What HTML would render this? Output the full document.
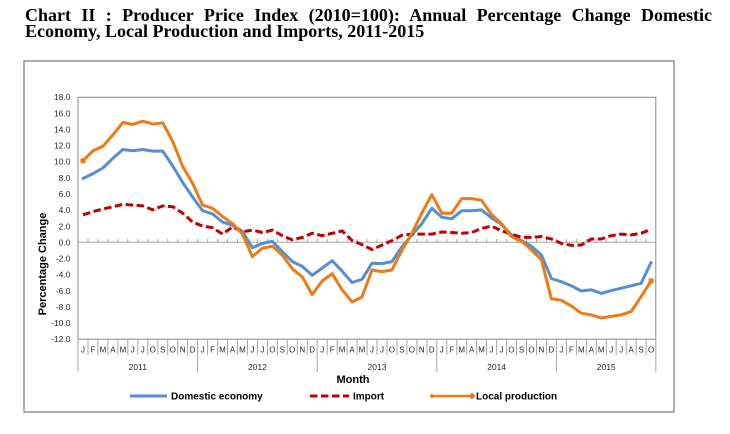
<!DOCTYPE html>
<html>
<head>
<meta charset="utf-8">
<style>
  html,body{margin:0;padding:0;background:#fff;}
  body{width:730px;height:434px;position:relative;overflow:hidden;}
  .title{position:absolute;left:25px;top:7px;width:687px;font-family:"Liberation Serif",serif;font-weight:bold;font-size:18px;line-height:16px;text-align:justify;color:#000;}
  svg{position:absolute;left:0;top:0;}
  .ax{font-family:"Liberation Sans",sans-serif;font-size:8.5px;fill:#262626;}
  .lg{font-family:"Liberation Sans",sans-serif;font-size:10px;font-weight:bold;fill:#000;}
</style>
</head>
<body>
<div class="title">Chart II : Producer Price Index (2010=100): Annual Percentage Change Domestic Economy, Local Production and Imports, 2011-2015</div>
<svg width="730" height="434" viewBox="0 0 730 434" xmlns="http://www.w3.org/2000/svg">
  <!-- outer chart border -->
  <rect x="24" y="61" width="650" height="351" fill="none" stroke="#8c8c8c" stroke-width="1.4"/>
  <!-- plot area -->
  <rect x="78" y="97.3" width="577.8" height="241.9" fill="none" stroke="#868686" stroke-width="1"/>
  <!-- zero line -->
  <line x1="78" y1="242.2" x2="656" y2="242.2" stroke="#a6a6a6" stroke-width="1"/>
  <g stroke="#a6a6a6" stroke-width="1">
    <path d="M88,239V242 M97.9,239V242 M107.9,239V242 M117.9,239V242 M127.8,239V242 M137.8,239V242 M147.8,239V242 M157.8,239V242 M167.7,239V242 M177.7,239V242 M187.6,239V242 M197.6,239V242 M207.6,239V242 M217.6,239V242 M227.5,239V242 M237.5,239V242 M247.5,239V242 M257.4,239V242 M267.4,239V242 M277.4,239V242 M287.3,239V242 M297.3,239V242 M307.3,239V242 M317.2,239V242 M327.2,239V242 M337.2,239V242 M347.1,239V242 M357.1,239V242 M367.1,239V242 M377,239V242 M387,239V242 M397,239V242 M406.9,239V242 M416.9,239V242 M426.9,239V242 M436.8,239V242 M446.8,239V242 M456.8,239V242 M466.7,239V242 M476.7,239V242 M486.6,239V242 M496.6,239V242 M506.6,239V242 M516.6,239V242 M526.5,239V242 M536.5,239V242 M546.5,239V242 M556.4,239V242 M566.4,239V242 M576.4,239V242 M586.3,239V242 M596.3,239V242 M606.3,239V242 M616.2,239V242 M626.2,239V242 M636.2,239V242 M646.1,239V242"/>
  </g>
  <!-- category separators -->
  <g stroke="#a6a6a6" stroke-width="1">
    <path d="M88,339V355 M97.9,339V355 M107.9,339V355 M117.9,339V355 M127.8,339V355 M137.8,339V355 M147.8,339V355 M157.8,339V355 M167.7,339V355 M177.7,339V355 M187.6,339V355 M207.6,339V355 M217.6,339V355 M227.5,339V355 M237.5,339V355 M247.5,339V355 M257.4,339V355 M267.4,339V355 M277.4,339V355 M287.3,339V355 M297.3,339V355 M307.3,339V355 M327.2,339V355 M337.2,339V355 M347.1,339V355 M357.1,339V355 M367.1,339V355 M377,339V355 M387,339V355 M397,339V355 M406.9,339V355 M416.9,339V355 M426.9,339V355 M446.8,339V355 M456.8,339V355 M466.7,339V355 M476.7,339V355 M486.6,339V355 M496.6,339V355 M506.6,339V355 M516.6,339V355 M526.5,339V355 M536.5,339V355 M546.5,339V355 M566.4,339V355 M576.4,339V355 M586.3,339V355 M596.3,339V355 M606.3,339V355 M616.2,339V355 M626.2,339V355 M636.2,339V355 M646.1,339V355"/>
    <path d="M78,339V372 M197.6,339V372 M317.2,339V372 M436.8,339V372 M556.4,339V372 M655.8,339V372"/>
  </g>
  <!-- y tick labels -->
  <g class="ax" text-anchor="end">
    <text x="70.5" y="100.2">18.0</text>
    <text x="70.5" y="116.3">16.0</text>
    <text x="70.5" y="132.4">14.0</text>
    <text x="70.5" y="148.6">12.0</text>
    <text x="70.5" y="164.7">10.0</text>
    <text x="70.5" y="180.9">8.0</text>
    <text x="70.5" y="197.0">6.0</text>
    <text x="70.5" y="213.1">4.0</text>
    <text x="70.5" y="229.3">2.0</text>
    <text x="70.5" y="245.4">0.0</text>
    <text x="70.5" y="261.5">-2.0</text>
    <text x="70.5" y="277.7">-4.0</text>
    <text x="70.5" y="293.8">-6.0</text>
    <text x="70.5" y="310.0">-8.0</text>
    <text x="70.5" y="326.1">-10.0</text>
    <text x="70.5" y="342.2">-12.0</text>
  </g>
  <!-- month labels -->
  <g class="ax" text-anchor="middle" style="font-size:8px">
    <text x="83.0" y="352.5">J</text><text x="93.0" y="352.5">F</text><text x="102.9" y="352.5">M</text><text x="112.9" y="352.5">A</text><text x="122.9" y="352.5">M</text><text x="132.8" y="352.5">J</text><text x="142.8" y="352.5">J</text><text x="152.8" y="352.5">O</text><text x="162.7" y="352.5">S</text><text x="172.7" y="352.5">O</text><text x="182.7" y="352.5">N</text><text x="192.6" y="352.5">D</text>
    <text x="202.6" y="352.5">J</text><text x="212.6" y="352.5">F</text><text x="222.5" y="352.5">M</text><text x="232.5" y="352.5">A</text><text x="242.5" y="352.5">M</text><text x="252.4" y="352.5">J</text><text x="262.4" y="352.5">J</text><text x="272.4" y="352.5">O</text><text x="282.3" y="352.5">S</text><text x="292.3" y="352.5">O</text><text x="302.3" y="352.5">N</text><text x="312.2" y="352.5">D</text>
    <text x="322.2" y="352.5">J</text><text x="332.2" y="352.5">F</text><text x="342.1" y="352.5">M</text><text x="352.1" y="352.5">A</text><text x="362.0" y="352.5">M</text><text x="372.0" y="352.5">J</text><text x="382.0" y="352.5">J</text><text x="391.9" y="352.5">O</text><text x="401.9" y="352.5">S</text><text x="411.9" y="352.5">O</text><text x="421.8" y="352.5">N</text><text x="431.8" y="352.5">D</text>
    <text x="441.8" y="352.5">J</text><text x="451.7" y="352.5">F</text><text x="461.7" y="352.5">M</text><text x="471.7" y="352.5">A</text><text x="481.6" y="352.5">M</text><text x="491.6" y="352.5">J</text><text x="501.6" y="352.5">J</text><text x="511.5" y="352.5">O</text><text x="521.5" y="352.5">S</text><text x="531.5" y="352.5">O</text><text x="541.4" y="352.5">N</text><text x="551.4" y="352.5">D</text>
    <text x="561.4" y="352.5">J</text><text x="571.3" y="352.5">F</text><text x="581.3" y="352.5">M</text><text x="591.3" y="352.5">A</text><text x="601.2" y="352.5">M</text><text x="611.2" y="352.5">J</text><text x="621.2" y="352.5">J</text><text x="631.1" y="352.5">A</text><text x="641.1" y="352.5">S</text><text x="651.1" y="352.5">O</text>
  </g>
  <!-- year labels -->
  <g class="ax" text-anchor="middle">
    <text x="137.8" y="369.8">2011</text>
    <text x="257.4" y="369.8">2012</text>
    <text x="377.0" y="369.8">2013</text>
    <text x="496.6" y="369.8">2014</text>
    <text x="606.2" y="369.8">2015</text>
  </g>
  <!-- axis titles -->
  <text x="353" y="383" text-anchor="middle" style="font-family:'Liberation Sans',sans-serif;font-size:11px;font-weight:bold;fill:#000">Month</text>
  <text transform="translate(46,264) rotate(-90)" text-anchor="middle" style="font-family:'Liberation Sans',sans-serif;font-size:11px;font-weight:bold;fill:#000">Percentage Change</text>

  <!-- Domestic economy -->
  <polyline fill="none" stroke="#558ED5" stroke-width="3" stroke-linejoin="round" stroke-linecap="round"
    points="83.0,178.5 93.0,173.6 102.9,168.0 112.9,158.3 122.9,149.5 132.8,150.7 142.8,149.5 152.8,151.1 162.7,151.1 172.7,166.0 182.7,182.5 192.6,197.0 202.6,210.7 212.6,214.0 222.5,222.0 232.5,225.3 242.5,231.7 252.4,247.8 262.4,243.4 272.4,241.4 282.3,251.5 292.3,261.6 302.3,266.4 312.2,275.3 322.2,268.0 332.2,260.7 342.1,271.2 352.1,282.5 362.0,279.3 372.0,263.2 382.0,263.6 391.9,261.6 401.9,247.0 411.9,234.9 421.8,223.7 431.8,208.3 441.8,217.2 451.7,218.8 461.7,210.7 471.7,210.7 481.6,209.9 491.6,218.0 501.6,224.5 511.5,234.9 521.5,240.6 531.5,246.2 541.4,255.1 551.4,278.5 561.4,281.7 571.3,285.8 581.3,291.0 591.3,289.8 601.2,293.4 611.2,290.6 621.2,288.2 631.1,285.8 641.1,283.3 651.1,262.4"/>
  <!-- Import -->
  <polyline fill="none" stroke="#C00000" stroke-width="3" stroke-linejoin="round" stroke-dasharray="7.5 3.5"
    points="83.0,214.8 93.0,211.6 102.9,209.1 112.9,206.7 122.9,204.3 132.8,205.1 142.8,205.9 152.8,209.9 162.7,205.9 172.7,206.7 182.7,213.2 192.6,222.0 202.6,226.1 212.6,227.7 222.5,234.1 232.5,226.9 242.5,231.7 252.4,230.1 262.4,232.5 272.4,230.1 282.3,235.7 292.3,239.8 302.3,237.4 312.2,233.3 322.2,235.7 332.2,233.3 342.1,230.9 352.1,240.6 362.0,244.6 372.0,249.5 382.0,245.0 391.9,240.6 401.9,235.3 411.9,234.1 421.8,234.1 431.8,234.1 441.8,232.0 451.7,232.5 461.7,233.3 471.7,232.5 481.6,228.5 491.6,226.1 501.6,230.9 511.5,234.1 521.5,237.4 531.5,237.4 541.4,236.6 551.4,239.0 561.4,243.4 571.3,245.4 581.3,245.0 591.3,239.0 601.2,239.0 611.2,235.7 621.2,234.1 631.1,234.9 641.1,233.3 651.1,229.3"/>
  <!-- Local production -->
  <polyline fill="none" stroke="#EE7A14" stroke-width="3" stroke-linejoin="round" stroke-linecap="round"
    points="83.0,160.7 93.0,150.7 102.9,146.2 112.9,134.9 122.9,122.4 132.8,124.4 142.8,121.2 152.8,124.1 162.7,122.8 172.7,141.4 182.7,166.4 192.6,183.3 202.6,205.1 212.6,208.3 222.5,216.4 232.5,223.7 242.5,234.1 252.4,256.7 262.4,248.2 272.4,246.2 282.3,255.1 292.3,268.8 302.3,276.9 312.2,294.6 322.2,280.9 332.2,273.7 342.1,289.8 352.1,301.9 362.0,297.0 372.0,270.0 382.0,271.6 391.9,270.0 401.9,250.3 411.9,233.3 421.8,213.2 431.8,194.6 441.8,213.2 451.7,213.2 461.7,198.6 471.7,198.6 481.6,200.3 491.6,214.8 501.6,223.7 511.5,236.6 521.5,241.4 531.5,249.9 541.4,259.9 551.4,298.7 561.4,300.3 571.3,305.9 581.3,313.2 591.3,314.8 601.2,318.0 611.2,316.4 621.2,314.8 631.1,311.6 641.1,296.6 651.1,280.9"/>
  <rect x="80.5" y="158.2" width="5" height="5" fill="#EE7A14"/>
  <rect x="648.6" y="278.4" width="5" height="5" fill="#EE7A14"/>

  <!-- legend -->
  <line x1="130" y1="396" x2="167" y2="396" stroke="#558ED5" stroke-width="3"/>
  <text class="lg" x="171" y="399.5">Domestic economy</text>
  <line x1="310" y1="396" x2="349" y2="396" stroke="#C00000" stroke-width="3" stroke-dasharray="7.5 3.5"/>
  <text class="lg" x="353" y="399.5">Import</text>
  <line x1="432" y1="396" x2="472" y2="396" stroke="#EE7A14" stroke-width="2.5"/>
  <path d="M432,393.5 L434.5,396 L432,398.5 L429.5,396 Z" fill="#EE7A14"/>
  <path d="M472,392.5 L475.5,396 L472,399.5 L468.5,396 Z" fill="#EE7A14"/>
  <text class="lg" x="476" y="399.5">Local production</text>
</svg>
</body>
</html>
